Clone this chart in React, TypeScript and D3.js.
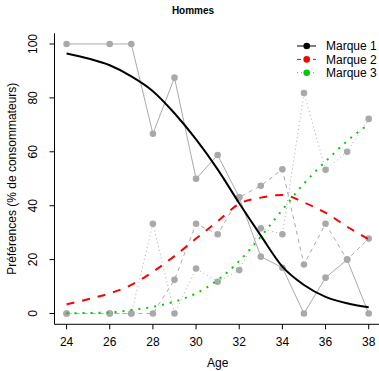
import React from 'react';
import * as d3 from 'd3';

// observed shares (% of consumers) per age
const ages = [24, 26, 27, 28, 29, 30, 31, 32, 33, 34, 35, 36, 37, 38];
const marque1 = [100, 100, 100, 66.7, 87.5, 50, 58.8, 43.1, 21.1, 17.0, 0, 13.3, 20, 0];
const marque2 = [0, 0, 0, 0, 12.5, 33.3, 29.4, 43.1, 47.4, 53.5, 18.2, 33.3, 20, 27.8];
const marque3 = [0, 0, 0, 33.3, 0, 16.7, 11.8, 16.1, 31.6, 29.4, 81.8, 53.3, 60, 72.2];

// fitted curves at each year
const fitAges = [24, 25, 26, 27, 28, 29, 30, 31, 32, 33, 34, 35, 36, 37, 38];
const fit1 = [96.5, 94.6, 92.1, 88.0, 82.5, 74.3, 64.6, 53.5, 40.9, 28.9, 17.4, 10.6, 6.2, 3.8, 2.3];
const fit2 = [3.4, 5.3, 7.5, 10.6, 15.5, 21.3, 27.8, 34.2, 40.7, 43.0, 44.0, 41.2, 37.4, 32.2, 27.5];
const fit3 = [0.1, 0.2, 0.4, 1.3, 2.5, 4.4, 7.5, 12.4, 19.5, 28.5, 38.5, 48.2, 56.4, 64.0, 70.2];

const xTicks = [24, 26, 28, 30, 32, 34, 36, 38];
const yTicks = [0, 20, 40, 60, 80, 100];
const legendLabels = ['Marque 1', 'Marque 2', 'Marque 3'];

const W = 379;
const H = 371;
const FONT = 'Liberation Sans, Arial, Helvetica, sans-serif';
const GRAY = '#aaaaaa';

const App: React.FC = () => {
  const x = d3.scaleLinear().domain([23.44, 38.56]).range([54.5, 380.8]);
  const y = d3.scaleLinear().domain([-4, 104]).range([324.3, 33.2]);

  const obsLine = d3.line<number>()
    .x((_, i) => x(ages[i]))
    .y(d => y(d));

  const fitLine = d3.line<number>()
    .x((_, i) => x(fitAges[i]))
    .y(d => y(d))
    .curve(d3.curveMonotoneX);

  const observed = [
    { values: marque1, dash: undefined },
    { values: marque2, dash: '4,4' },
    { values: marque3, dash: '1,3' },
  ];

  const fits = [
    { values: fit1, color: '#000000', dash: undefined },
    { values: fit2, color: '#ff0000', dash: '8,8' },
    { values: fit3, color: '#00cd00', dash: '2,6' },
  ];

  const legendDash = [undefined, '4,4', '1,3'];
  const bottom = y(-4);
  const left = x(23.44);

  return (
    <svg
      width={W}
      height={H}
      style={{ position: 'fixed', left: 0, top: 0, background: '#fff' }}
      fontFamily={FONT}
    >
      <rect width={W} height={H} fill="#fff" />

      <text x={193} y={14} textAnchor="middle" fontSize={10} fontWeight="bold">Hommes</text>

      {/* observed data */}
      {observed.map((s, k) => (
        <path key={'l' + k} d={obsLine(s.values) || ''} fill="none" stroke={GRAY}
          strokeWidth={1} strokeDasharray={s.dash} />
      ))}
      {observed.map((s, k) => (
        <g key={'p' + k}>
          {s.values.map((v, i) => (
            <circle key={i} cx={x(ages[i])} cy={y(v)} r={3.3} fill="#a9a9a9" />
          ))}
        </g>
      ))}

      {/* fitted curves */}
      {fits.map((f, k) => (
        <path key={'f' + k} d={fitLine(f.values) || ''} fill="none" stroke={f.color}
          strokeWidth={2} strokeDasharray={f.dash} />
      ))}

      {/* axes */}
      <line x1={left} x2={left} y1={y(104)} y2={bottom} stroke="#000" />
      <line x1={left} x2={381} y1={bottom} y2={bottom} stroke="#000" />
      {xTicks.map(t => (
        <g key={t}>
          <line x1={x(t)} x2={x(t)} y1={bottom} y2={bottom + 5} stroke="#000" />
          <text x={x(t)} y={346} textAnchor="middle" fontSize={12}>{t}</text>
        </g>
      ))}
      {yTicks.map(t => (
        <g key={t}>
          <line x1={left - 5} x2={left} y1={y(t)} y2={y(t)} stroke="#000" />
          <text transform={`translate(36.5,${y(t)}) rotate(-90)`} textAnchor="middle" fontSize={12}>{t}</text>
        </g>
      ))}
      <text x={x(31)} y={367} textAnchor="middle" fontSize={12}>Age</text>
      <text transform={`translate(16,${(y(104) + bottom) / 2}) rotate(-90)`} textAnchor="middle" fontSize={12}>
        Préférences (% de consommateurs)
      </text>

      {/* legend */}
      {legendLabels.map((lab, i) => {
        const ly = 46 + i * 13.4;
        return (
          <g key={lab}>
            <line x1={297} x2={316} y1={ly} y2={ly} stroke={fits[i].color} strokeWidth={1}
              strokeDasharray={legendDash[i]} />
            <circle cx={306.7} cy={ly} r={3.3} fill={fits[i].color} />
            <text x={326} y={ly + 4.2} fontSize={12}>{lab}</text>
          </g>
        );
      })}
    </svg>
  );
};

export default App;
